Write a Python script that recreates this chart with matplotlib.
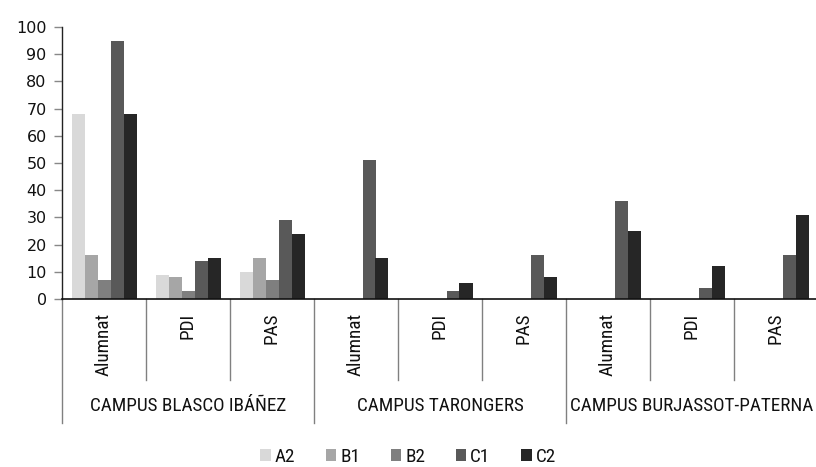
import matplotlib
matplotlib.use("Agg")
import matplotlib.pyplot as plt
from matplotlib import font_manager
from matplotlib.patches import Patch
import numpy as np

# ---- data ----
groups = ["CAMPUS BLASCO IBÁÑEZ", "CAMPUS TARONGERS", "CAMPUS BURJASSOT-PATERNA"]
subcats = ["Alumnat", "PDI", "PAS"]
series = ["A2", "B1", "B2", "C1", "C2"]
A2 = [68, 9, 10, 0, 0, 0, 0, 0, 0]
B1 = [16, 8, 15, 0, 0, 0, 0, 0, 0]
B2 = [7, 3, 7, 0, 0, 0, 0, 0, 0]
C1 = [95, 14, 29, 51, 3, 16, 36, 4, 16]
C2 = [68, 15, 24, 15, 6, 8, 25, 12, 31]
yticks = [0, 10, 20, 30, 40, 50, 60, 70, 80, 90, 100]

colors = ["#d9d9d9", "#a6a6a6", "#7f7f7f", "#595959", "#262626"]

# ---- fonts ----
available = {f.name for f in font_manager.fontManager.ttflist}
narrow = None
for cand in ["Liberation Sans Narrow", "Roboto Condensed", "Open Sans Condensed",
             "DejaVu Sans Condensed", "Noto Sans Condensed"]:
    if cand in available:
        narrow = cand
        break
if narrow is None:
    narrow = "DejaVu Sans"
    cat_size = 10.3
else:
    cat_size = 13.8

fig = plt.figure(figsize=(8.16, 4.67), dpi=100)
ax = fig.add_axes([62 / 816, 1 - 299 / 467, 756 / 816, 272 / 467])

values = [A2, B1, B2, C1, C2]
n = len(A2)
x = np.arange(n)
bw = 13 / 84
for i, (vals, col, name) in enumerate(zip(values, colors, series)):
    ax.bar(x + (i - 2) * bw, vals, width=bw, color=col, edgecolor="none", label=name)

ax.set_xlim(-0.5, n - 0.5)
ax.set_ylim(0, 100)
ax.set_yticks(yticks)
ax.set_yticklabels([str(v) for v in yticks], fontsize=11.5, family="DejaVu Sans", color="#111111")
ax.tick_params(axis="y", direction="out", length=6, width=1, color="#888888", pad=5)
ax.set_xticks([])
for s in ["top", "right"]:
    ax.spines[s].set_visible(False)
ax.spines["left"].set_color("#222222")
ax.spines["bottom"].set_color("#111111")
ax.spines["left"].set_linewidth(1.0)
ax.spines["bottom"].set_linewidth(1.2)

trans = matplotlib.transforms.blended_transform_factory(ax.transData, ax.transAxes)
ax_h = 272.0
sub_bottom = -81 / ax_h
grp_bottom = -124 / ax_h
for k in range(n + 1):
    xb = k - 0.5
    if k % 3 == 0:
        ax.plot([xb, xb], [0, grp_bottom], transform=trans, color="#808080", lw=1.0, clip_on=False)
    else:
        ax.plot([xb, xb], [0, sub_bottom], transform=trans, color="#808080", lw=1.0, clip_on=False)

for k in range(n):
    ax.text(k, -14 / ax_h, subcats[k % 3], transform=trans, rotation=90,
            ha="center", va="top", fontsize=cat_size, family=narrow, color="#111111")

for g, name in enumerate(groups):
    ax.text(3 * g + 1, -107 / ax_h, name, transform=trans, ha="center", va="center",
            fontsize=cat_size, family=narrow, color="#111111", clip_on=False)

handles = [Patch(facecolor=c, edgecolor="none", label=s) for c, s in zip(colors, series)]
leg = fig.legend(handles=handles, loc="center", bbox_to_anchor=(0.5, 1 - 457 / 467), ncol=5,
                 frameon=False, prop={"family": narrow, "size": cat_size},
                 handlelength=0.55, handleheight=0.55, handletextpad=0.2, columnspacing=1.6)
for t in leg.get_texts():
    t.set_color("#111111")

fig.savefig("out.png", dpi=100)
